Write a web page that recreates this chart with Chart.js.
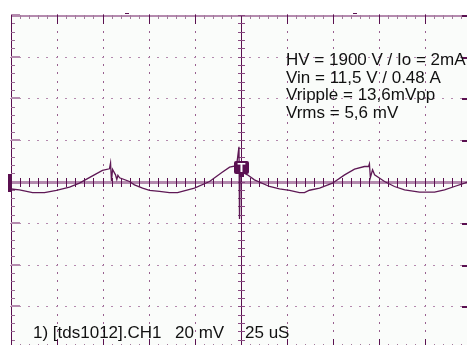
<!DOCTYPE html>
<html>
<head>
<meta charset="utf-8">
<script src="https://cdn.jsdelivr.net/npm/chart.js@4/dist/chart.umd.min.js"></script>
<style>
  html, body { margin: 0; padding: 0; background: #fff; overflow: hidden; }
  #wrap { width: 480px; height: 360px; }
</style>
</head>
<body>
<div id="wrap"><canvas id="scope" width="480" height="360"></canvas></div>
<script>
// CH1 ripple capture, 25 uS/div, 20 mV/div
let timeUs = [0, 4.6, 11.7, 18.2, 24.7, 31.8, 37.2, 44.3, 49.7, 53.5, 54.1, 54.6, 55.2, 56.8, 57.5,
  58.1, 59.0, 64.4, 67.1, 71.5, 75.3, 80.7, 86.1, 90.5, 99.7, 107.9, 114.4, 118.8, 122.6, 123.9,
  124.2, 124.6, 128.5, 132.3, 140.5, 145.9, 151.4, 156.8, 159.5, 162.2, 167.7, 174.7, 181.3, 186.7, 192.1,
  194.3, 194.8, 195.3, 196.5, 197.6, 203.0, 208.4, 213.9, 222.0, 230.2, 235.6, 241.0, 246.5, 250];
let rippleMv = [-3.6, -4.0, -5.3, -5.3, -4.3, -2.7, -0.8, 2.7, 5.3, 6.1, 8.9, 0.3, 5.8, 3.2, 1.0,
  3.0, 1.8, 0, -1.6, -3.2, -4.3, -4.7, -5.3, -5.3, -3.2, 0, 4.2, 6.9, 7.6, 16.7,
  -18.0, 5.0, 3.2, 0.8, -2.4, -3.5, -4.3, -5.3, -5.3, -4.2, -3.2, -0.8, 3.2, 5.9, 7.2,
  7.2, 8.5, 1.8, 5.6, 3.2, 0, -2.4, -4.0, -5.1, -5.1, -4.0, -2.4, -0.8, 0.3];

let timeRange = [0, 250];      // 10 div x 25 uS
let voltRange = [-80, 80];     // 8 div x 20 mV
let timeDiv = 25;
let voltDiv = 20;
let triggerTime = 125;
let triggerLevel = 6.7;
let cursorTimes = [62, 186];

let noteLines = ["HV = 1900 V / Io = 2mA", "Vin = 11,5 V / 0.48 A", "Vripple = 13,6mVpp", "Vrms = 5,6 mV"];
let channelLabel = "1) [tds1012].CH1";
let voltsLabel = "20 mV";
let timeLabel = "25 uS";

let dark = "#5a1050";
let light = "#b48aae";
let font = '17px "Liberation Sans", Arial, sans-serif';

function getPoints(){
  let pts = [];
  for(let i = 0; i < timeUs.length; i++){
    pts.push({x: timeUs[i], y: rippleMv[i]});
  }
  return pts;
}

// graticule: dotted divisions, border ticks, centre cross
const graticule = {
  id: "graticule",
  beforeDatasetsDraw(chart){
    const ctx = chart.ctx;
    const a = chart.chartArea;
    const xs = chart.scales.x, ys = chart.scales.y;
    const px = v => Math.floor(xs.getPixelForValue(v));
    const py = v => Math.round(ys.getPixelForValue(v));
    const minorT = timeDiv / 5, minorV = voltDiv / 5;
    ctx.save();
    ctx.fillStyle = "#fafcfa";
    ctx.fillRect(a.left, a.top, a.right - a.left, a.bottom - a.top);

    // dotted division lines
    ctx.fillStyle = "#98608f";
    for(let t = timeRange[0] + timeDiv; t < timeRange[1]; t += timeDiv){
      if(t === triggerTime) continue;
      for(let v = voltRange[0]; v <= voltRange[1]; v += minorV){
        ctx.fillRect(px(t), py(v) - 1, 1, 2);
      }
    }
    ctx.fillStyle = light;
    for(let v = voltRange[0] + voltDiv; v < voltRange[1]; v += voltDiv){
      if(v === 0) continue;
      for(let t = timeRange[0]; t <= timeRange[1]; t += minorT){
        ctx.fillRect(px(t) - 1, py(v), 2, 1);
      }
    }

    // left and top borders
    ctx.fillStyle = dark;
    ctx.fillRect(a.left, a.top, 1, a.bottom - a.top);
    ctx.fillStyle = light;
    ctx.fillRect(a.left, a.top, a.right - a.left, 2);
    for(let v = voltRange[0]; v <= voltRange[1]; v += minorV){
      let major = Math.abs(v % voltDiv) < 1e-6;
      ctx.fillStyle = major ? light : "#9a6a94";
      ctx.fillRect(a.left, py(v) - (major ? 1 : 0), major ? 9 : 4, major ? 2 : 1);
      ctx.fillStyle = major ? dark : light;
      if(major) ctx.fillRect(a.right - 9, py(v), 9, 2);
      else ctx.fillRect(a.right - 4, py(v), 4, 1);
    }
    for(let t = timeRange[0]; t <= timeRange[1]; t += minorT){
      let major = Math.abs(t % timeDiv) < 1e-6;
      ctx.fillStyle = major ? dark : "#a27a9c";
      ctx.fillRect(px(t), a.top, 1, major ? 9 : 4);
      ctx.fillRect(px(t), a.bottom - (major ? 9 : 4), 1, major ? 9 : 4);
    }

    // centre cross
    let cx = px(triggerTime), cy = py(0);
    ctx.fillStyle = light;
    ctx.fillRect(a.left, cy - 1, a.right - a.left, 3);
    ctx.fillStyle = dark;
    for(let t = timeRange[0]; t <= timeRange[1]; t += minorT){
      ctx.fillRect(px(t), cy - 4, 1, 9);
    }
    ctx.fillRect(cx, a.top, 1, a.bottom - a.top);
    ctx.fillStyle = "#8a4a82";
    for(let v = voltRange[0]; v <= voltRange[1]; v += minorV){
      ctx.fillRect(cx - 3, py(v), 7, 1);
    }

    // cursor marks above the screen
    ctx.fillStyle = dark;
    cursorTimes.forEach(t => ctx.fillRect(px(t), a.top - 2, 4, 1));
    ctx.restore();
  },
  afterDatasetsDraw(chart){
    const ctx = chart.ctx;
    const a = chart.chartArea;
    const xs = chart.scales.x, ys = chart.scales.y;
    ctx.save();
    // channel ground marker
    let gy = Math.round(ys.getPixelForValue(0));
    ctx.fillStyle = dark;
    ctx.fillRect(a.left - 3, gy - 8, 4, 18);

    // trigger marker
    let tx = Math.floor(xs.getPixelForValue(triggerTime));
    let ty = Math.round(ys.getPixelForValue(triggerLevel));
    ctx.fillStyle = dark;
    ctx.beginPath();
    ctx.roundRect(tx - 7, ty - 7, 15, 13, 2);
    ctx.fill();
    ctx.fillRect(tx - 2, ty + 5, 5, 4);
    ctx.fillStyle = "#fff";
    ctx.font = 'bold 13px "Liberation Sans", Arial, sans-serif';
    ctx.textAlign = "center";
    ctx.textBaseline = "middle";
    ctx.fillText("T", tx + 0.5, ty);

    // readout text
    ctx.fillStyle = "#111";
    ctx.font = font;
    ctx.textAlign = "left";
    ctx.textBaseline = "alphabetic";
    noteLines.forEach((s, i) => ctx.fillText(s, 286, 65 + i * 17.7));
    ctx.fillText(channelLabel, 33, 338);
    ctx.fillText(voltsLabel, 175, 338);
    ctx.fillText(timeLabel, 245, 338);
    ctx.restore();
  }
};

new Chart(document.getElementById("scope"), {
  type: "line",
  data: {
    datasets: [{
      label: "CH1",
      data: getPoints(),
      borderColor: "#5e1855",
      borderWidth: 1.3,
      pointRadius: 0,
      tension: 0,
      fill: false
    }]
  },
  options: {
    responsive: false,
    animation: false,
    events: [],
    layout: { padding: { left: 11, top: 15, right: 9, bottom: 12 } },
    plugins: { legend: { display: false }, tooltip: { enabled: false } },
    scales: {
      x: { type: "linear", min: timeRange[0], max: timeRange[1], display: false },
      y: { type: "linear", min: voltRange[0], max: voltRange[1], display: false }
    }
  },
  plugins: [graticule]
});
</script>
</body>
</html>
